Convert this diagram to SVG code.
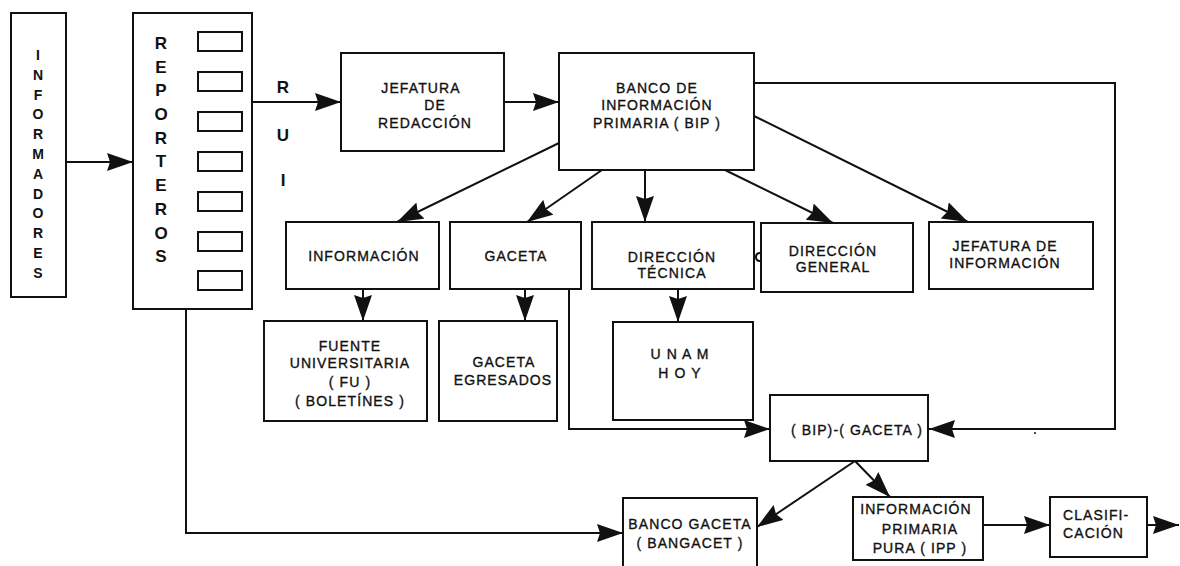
<svg xmlns="http://www.w3.org/2000/svg" width="1180" height="566" viewBox="0 0 1180 566">
  <style>
    .box { fill: #fff; stroke: #111; stroke-width: 2; }
    .ln { fill: none; stroke: #111; stroke-width: 2; }
    .t { font-family: "Liberation Sans", Arial, sans-serif; font-size: 14px; letter-spacing: 1.1px; text-anchor: middle; fill: #111; stroke: #111; stroke-width: 0.35px; }
    .ts { text-anchor: start; }
    .v { font-family: "Liberation Sans", Arial, sans-serif; font-weight: bold; text-anchor: middle; fill: #111; }
  </style>
  <defs>
    <marker id="ah" markerUnits="userSpaceOnUse" markerWidth="30" markerHeight="20" refX="26" refY="9" orient="auto">
      <path d="M0,0 L26,9 L0,18 L3,9 z" fill="#111"/>
    </marker>
  </defs>

  <rect width="1180" height="566" fill="#fff"/>

  <!-- connectors -->
  <g id="connectors" class="ln" marker-end="url(#ah)">
    <path d="M66,162 H133"/>
    <path d="M252,102 H341"/>
    <path d="M504,102 H559"/>
    <path d="M559,143 L397,222"/>
    <path d="M602,170 L527,222"/>
    <path d="M645,170 V222"/>
    <path d="M725,170 L833,223"/>
    <path d="M754,116 L968,222"/>
    <path d="M754,83 H1115 V429 H929"/>
    <path d="M363,289 V321"/>
    <path d="M525,289 V321"/>
    <path d="M678,289 V322"/>
    <path d="M569,289 V429 H770"/>
    <path d="M186,309 V533 H623"/>
    <path d="M855,461 L757,527"/>
    <path d="M855,461 L890,497"/>
    <path d="M983,525 H1050"/>
    <path d="M1147,525 H1179"/>
  </g>

  <!-- INFORMADORES -->
  <g id="informadores">
    <rect class="box" x="11" y="13" width="55" height="284"/>
    <g class="v" font-size="14">
      <text x="38" y="60">I</text>
      <text x="38" y="80">N</text>
      <text x="38" y="100">F</text>
      <text x="38" y="119">O</text>
      <text x="38" y="139">R</text>
      <text x="38" y="159">M</text>
      <text x="38" y="179">A</text>
      <text x="38" y="199">D</text>
      <text x="38" y="218">O</text>
      <text x="38" y="238">R</text>
      <text x="38" y="258">E</text>
      <text x="38" y="278">S</text>
    </g>
  </g>

  <!-- REPORTEROS -->
  <g id="reporteros">
    <rect class="box" x="133" y="13" width="119" height="296"/>
    <g class="v" font-size="17">
      <text x="161" y="49">R</text>
      <text x="161" y="73">E</text>
      <text x="161" y="96">P</text>
      <text x="161" y="120">O</text>
      <text x="161" y="144">R</text>
      <text x="161" y="167">T</text>
      <text x="161" y="191">E</text>
      <text x="161" y="215">R</text>
      <text x="161" y="239">O</text>
      <text x="161" y="262">S</text>
    </g>
    <g class="box">
      <rect x="198" y="32" width="44" height="19"/>
      <rect x="198" y="72" width="44" height="19"/>
      <rect x="198" y="112" width="44" height="19"/>
      <rect x="198" y="152" width="44" height="19"/>
      <rect x="198" y="192" width="44" height="19"/>
      <rect x="198" y="232" width="44" height="19"/>
      <rect x="198" y="271" width="44" height="19"/>
    </g>
  </g>

  <!-- RUI label -->
  <g id="rui" class="v" font-size="17">
    <text x="283" y="93">R</text>
    <text x="283" y="141">U</text>
    <text x="283" y="186">I</text>
  </g>

  <!-- JEFATURA DE REDACCIÓN -->
  <g id="jefatura-redaccion">
    <rect class="box" x="341" y="53" width="163" height="98"/>
    <text class="t" x="421" y="93">JEFATURA</text>
    <text class="t" x="435" y="110">DE</text>
    <text class="t" x="425" y="128">REDACCIÓN</text>
  </g>

  <!-- BANCO DE INFORMACIÓN PRIMARIA -->
  <g id="bip">
    <rect class="box" x="559" y="53" width="195" height="117"/>
    <text class="t" x="657" y="93">BANCO DE</text>
    <text class="t" x="657" y="110">INFORMACIÓN</text>
    <text class="t" x="657" y="128">PRIMARIA ( BIP )</text>
  </g>

  <!-- INFORMACIÓN -->
  <g id="informacion">
    <rect class="box" x="286" y="222" width="153" height="67"/>
    <text class="t" x="364" y="261">INFORMACIÓN</text>
  </g>

  <!-- GACETA -->
  <g id="gaceta">
    <rect class="box" x="450" y="222" width="131" height="67"/>
    <text class="t" x="516" y="261">GACETA</text>
  </g>

  <!-- DIRECCIÓN TÉCNICA -->
  <g id="direccion-tecnica">
    <rect class="box" x="592" y="222" width="162" height="67"/>
    <text class="t" x="672" y="262">DIRECCIÓN</text>
    <text class="t" x="672" y="278">TÉCNICA</text>
  </g>

  <!-- small mark between the two direction boxes -->
  <path class="ln" stroke-width="1.5" d="M760,253 q-4,0 -4,4 q0,4 4,4"/>

  <!-- DIRECCIÓN GENERAL -->
  <g id="direccion-general">
    <rect class="box" x="761" y="223" width="152" height="69"/>
    <text class="t" x="833" y="256">DIRECCIÓN</text>
    <text class="t" x="833" y="272">GENERAL</text>
  </g>

  <!-- JEFATURA DE INFORMACIÓN -->
  <g id="jefatura-informacion">
    <rect class="box" x="929" y="222" width="164" height="67"/>
    <text class="t" x="1005" y="251">JEFATURA DE</text>
    <text class="t" x="1005" y="268">INFORMACIÓN</text>
  </g>

  <!-- FUENTE UNIVERSITARIA -->
  <g id="fuente-universitaria">
    <rect class="box" x="264" y="321" width="163" height="100"/>
    <text class="t" x="350" y="351">FUENTE</text>
    <text class="t" x="350" y="368">UNIVERSITARIA</text>
    <text class="t" x="350" y="387">( FU )</text>
    <text class="t" x="350" y="406">( BOLETÍNES )</text>
  </g>

  <!-- GACETA EGRESADOS -->
  <g id="gaceta-egresados">
    <rect class="box" x="439" y="321" width="118" height="100"/>
    <text class="t" x="504" y="367">GACETA</text>
    <text class="t" x="503" y="385">EGRESADOS</text>
  </g>

  <!-- UNAM HOY -->
  <g id="unam-hoy">
    <rect class="box" x="613" y="322" width="140" height="98"/>
    <text class="t" x="680" y="359">U N A M</text>
    <text class="t" x="680" y="378">H O Y</text>
  </g>

  <!-- (BIP)-(GACETA) -->
  <g id="bip-gaceta">
    <rect class="box" x="770" y="395" width="158" height="66"/>
    <text class="t" x="857" y="435">( BIP)-( GACETA )</text>
  </g>

  <!-- BANCO GACETA -->
  <g id="banco-gaceta">
    <rect class="box" x="623" y="498" width="134" height="72"/>
    <text class="t" x="690" y="529">BANCO GACETA</text>
    <text class="t" x="690" y="548">( BANGACET )</text>
  </g>

  <!-- INFORMACIÓN PRIMARIA PURA -->
  <g id="ipp">
    <rect class="box" x="853" y="497" width="130" height="63"/>
    <text class="t" x="916" y="514">INFORMACIÓN</text>
    <text class="t" x="920" y="534">PRIMARIA</text>
    <text class="t" x="920" y="553">PURA ( IPP )</text>
  </g>

  <!-- CLASIFICACIÓN -->
  <g id="clasificacion">
    <rect class="box" x="1050" y="497" width="97" height="60"/>
    <text class="t ts" x="1063" y="520">CLASIFI-</text>
    <text class="t ts" x="1063" y="538">CACIÓN</text>
  </g>

  <circle cx="1035" cy="433" r="1" fill="#111"/>
</svg>
